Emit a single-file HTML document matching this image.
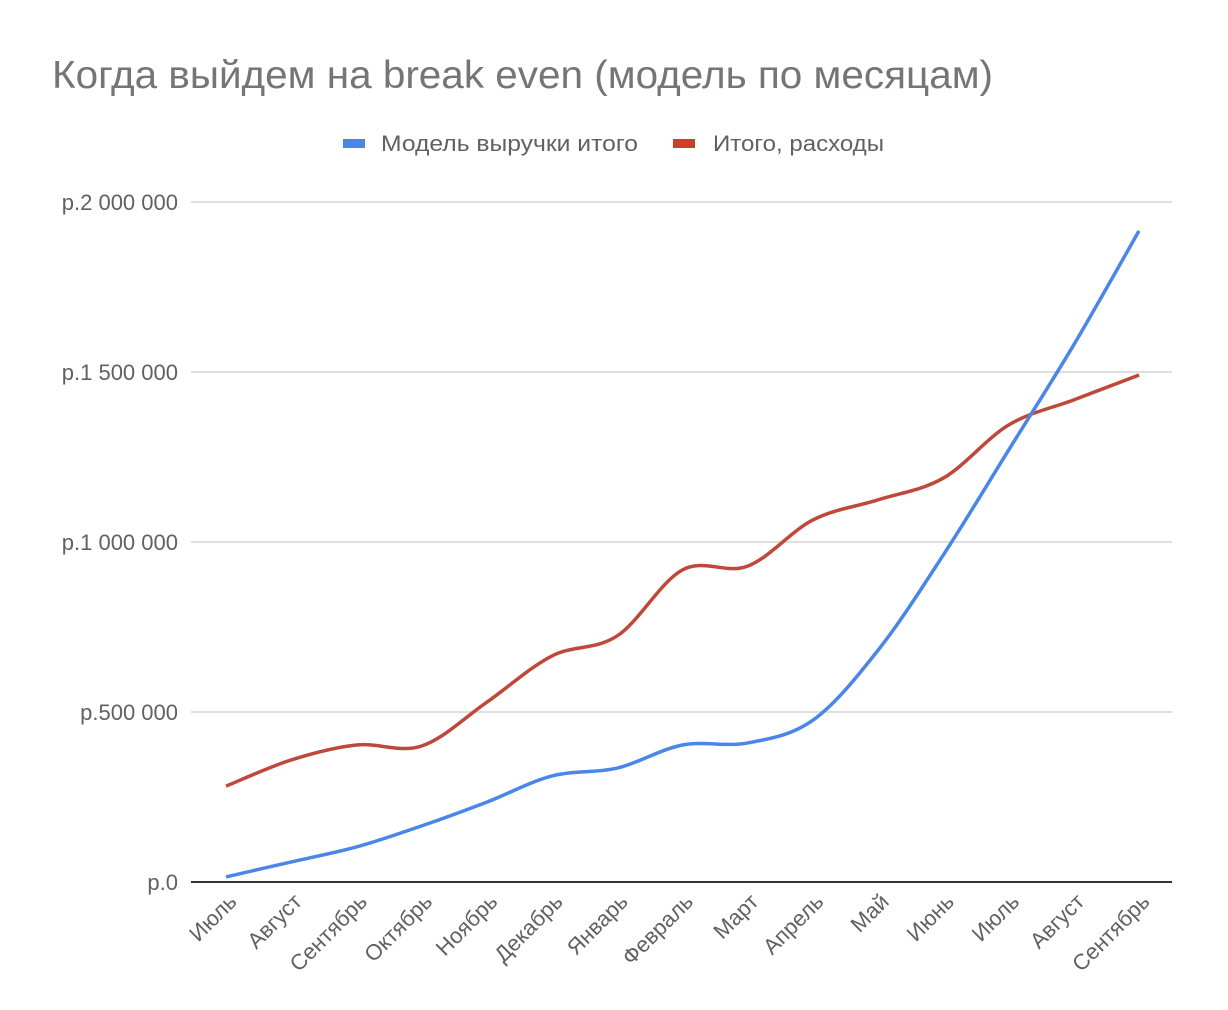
<!DOCTYPE html>
<html><head><meta charset="utf-8"><style>
html,body{margin:0;padding:0;background:#fff;}
svg{display:block;font-family:"Liberation Sans",sans-serif;}
</style></head><body>
<svg id="chart" width="1228" height="1010">
<text x="52" y="88" font-size="39" fill="#757575" textLength="941" lengthAdjust="spacingAndGlyphs">Когда выйдем на break even (модель по месяцам)</text>
<g>
<rect x="343" y="139" width="22" height="9" fill="#4a86e8"/>
<text x="381" y="151" font-size="22" fill="#616161" textLength="257" lengthAdjust="spacingAndGlyphs">Модель выручки итого</text>
<rect x="673" y="139" width="22" height="9" fill="#cc4125"/>
<text x="713" y="151" font-size="22" fill="#616161" textLength="171" lengthAdjust="spacingAndGlyphs">Итого, расходы</text>
</g>
<g id="grid"></g><g id="xlabels"></g><g id="series"></g>
</svg>
<script>
const categories=["Июль","Август","Сентябрь","Октябрь","Ноябрь","Декабрь","Январь","Февраль","Март","Апрель","Май","Июнь","Июль","Август","Сентябрь"];
const revenue=[15000,59000,103000,165000,235000,312000,335000,403000,409000,476000,682000,962000,1270000,1580000,1915000];
const expenses=[282000,359000,403000,400000,529000,665000,724000,918000,929000,1065000,1124000,1188000,1344000,1418000,1491000];
const yTicks=[0,500000,1000000,1500000,2000000];
const yTickLabels=["р.0","р.500 000","р.1 000 000","р.1 500 000","р.2 000 000"];
const NS="http://www.w3.org/2000/svg";
const x0=226,x1=1139,plotL=191,plotR=1172,yBase=882,yTop=202,yMax=2000000;
function xs(i){return x0+(x1-x0)*i/(categories.length-1);}
function ys(v){return yBase-(yBase-yTop)*v/yMax;}
function mk(tag,attrs,parent){const e=document.createElementNS(NS,tag);for(const k in attrs)e.setAttribute(k,attrs[k]);parent.appendChild(e);return e;}
const grid=document.getElementById('grid');
yTicks.forEach((t,i)=>{
 const l=mk('line',{x1:plotL,x2:plotR,y1:ys(t),y2:ys(t),stroke:t===0?'#333':'#ccc','stroke-width':t===0?2:1.3},grid);
 
 
 const tx=mk('text',{x:178,y:ys(t)+8,'text-anchor':'end','font-size':22,fill:'#616161'},grid);
 tx.textContent=yTickLabels[i];
 
 
});
const xl=document.getElementById('xlabels');
categories.forEach((c,i)=>{
 const x=xs(i)+12,y=903;
 const t=mk('text',{x:x,y:y,'text-anchor':'end','font-size':22,fill:'#616161',transform:`rotate(-45 ${x} ${y})`},xl);
 t.textContent=c;
 
 
});
function path(vals){
 const p=vals.map((v,i)=>[xs(i),ys(v)]);
 let d=`M${p[0][0]},${p[0][1]}`;
 for(let i=0;i<p.length-1;i++){
  const a=p[Math.max(0,i-1)],b=p[i],c=p[i+1],e=p[Math.min(p.length-1,i+2)];
  const t=6;
  d+=` C${b[0]+(c[0]-a[0])/t},${b[1]+(c[1]-a[1])/t} ${c[0]-(e[0]-b[0])/t},${c[1]-(e[1]-b[1])/t} ${c[0]},${c[1]}`;
 }
 return d;
}
const s=document.getElementById('series');
const pe=mk('path',{d:path(expenses),fill:'none',stroke:'#c0483a','stroke-width':3.5},s);


const pr=mk('path',{d:path(revenue),fill:'none',stroke:'#4a86e8','stroke-width':3.5},s);


</script>
</body></html>
